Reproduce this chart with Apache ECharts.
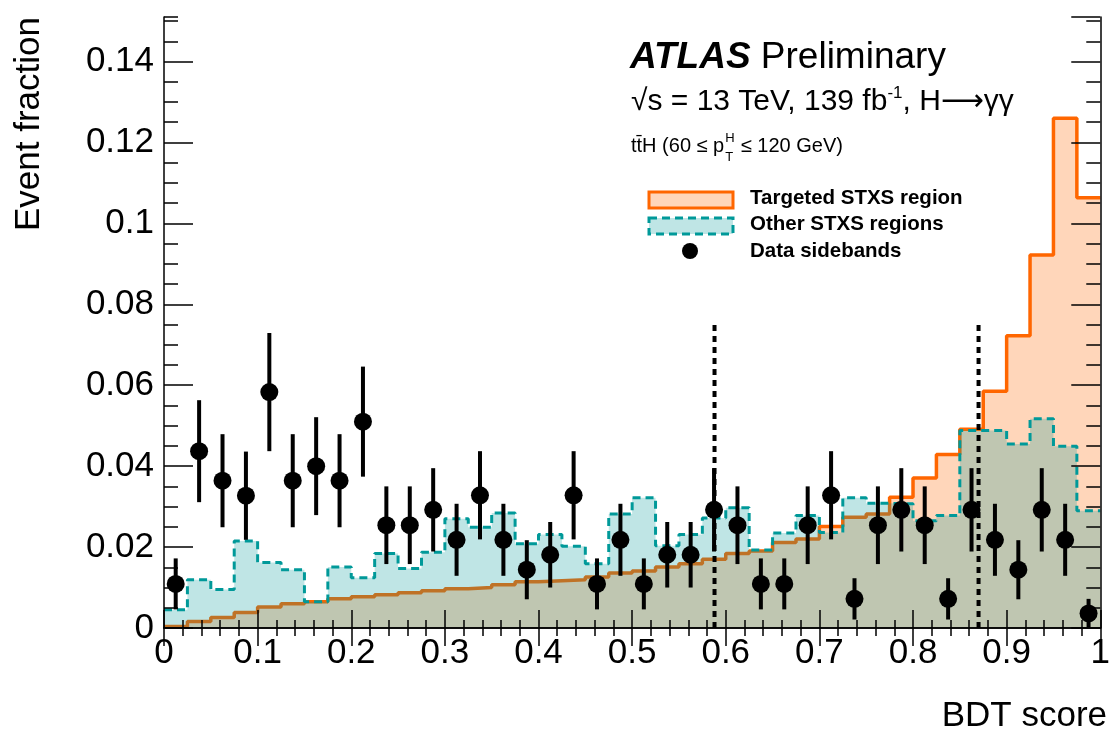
<!DOCTYPE html>
<html>
<head>
<meta charset="utf-8">
<script src="https://cdn.jsdelivr.net/npm/echarts@6/dist/echarts.min.js"></script>
<style>
  html, body { margin: 0; padding: 0; background: #ffffff; }
  #chart { width: 1113px; height: 730px; }
</style>
</head>
<body>
<div id="chart"></div>
<script>
// 40 bins of BDT score, width 0.025
const BIN_WIDTH = 0.025;

const targetedFrac = [
  0.0004, 0.0016, 0.0026, 0.0038, 0.0052, 0.0060, 0.0065, 0.0072, 0.0077, 0.0082,
  0.0087, 0.0092, 0.0097, 0.0100, 0.0107, 0.0114, 0.0117, 0.0119, 0.0126, 0.0136,
  0.0141, 0.0151, 0.0159, 0.0170, 0.0184, 0.0190, 0.0211, 0.0220, 0.0251, 0.0274,
  0.0282, 0.0323, 0.0371, 0.0429, 0.0491, 0.0585, 0.0722, 0.0922, 0.1260, 0.1063
];

const otherFrac = [
  0.0045, 0.0119, 0.0095, 0.0215, 0.0162, 0.0144, 0.0065, 0.0151, 0.0124, 0.0184,
  0.0147, 0.0187, 0.0270, 0.0249, 0.0284, 0.0208, 0.0231, 0.0202, 0.0159, 0.0282,
  0.0322, 0.0203, 0.0231, 0.0272, 0.0297, 0.0193, 0.0235, 0.0278, 0.0236, 0.0322,
  0.0308, 0.0307, 0.0265, 0.0278, 0.0488, 0.0488, 0.0455, 0.0517, 0.0449, 0.0290
];

const dataFrac = [
  0.0109, 0.0437, 0.0364, 0.0327, 0.0583, 0.0364, 0.0400, 0.0364, 0.0510, 0.0254,
  0.0254, 0.0292, 0.0218, 0.0328, 0.0218, 0.0144, 0.0181, 0.0328, 0.0109, 0.0218,
  0.0109, 0.0181, 0.0181, 0.0292, 0.0254, 0.0109, 0.0109, 0.0254, 0.0328, 0.0072,
  0.0254, 0.0292, 0.0254, 0.0072, 0.0292, 0.0218, 0.0144, 0.0292, 0.0218, 0.0036
];

const dataErr = [
  0.0063, 0.0126, 0.0115, 0.0109, 0.0146, 0.0115, 0.0121, 0.0115, 0.0136, 0.0096,
  0.0096, 0.0103, 0.0089, 0.0109, 0.0089, 0.0073, 0.0081, 0.0109, 0.0063, 0.0089,
  0.0063, 0.0081, 0.0081, 0.0103, 0.0096, 0.0063, 0.0063, 0.0096, 0.0109, 0.0051,
  0.0096, 0.0103, 0.0096, 0.0051, 0.0103, 0.0089, 0.0073, 0.0103, 0.0089, 0.0036
];

// category boundaries (dotted lines)
const cutValues = [0.588, 0.870];
const cutTop = 0.0757;

const legendLabels = ['Targeted STXS region', 'Other STXS regions', 'Data sidebands'];

const FONT = "'Liberation Sans', Arial, Helvetica, sans-serif";
const ORANGE = '#ff6600';
const ORANGE_FILL = 'rgba(255,102,0,0.27)';
const TEAL = '#009999';
const TEAL_FILL = 'rgba(0,153,153,0.25)';

function histSteps(vals) {
  const pts = vals.map((v, i) => [i * BIN_WIDTH, v]);
  pts.push([vals.length * BIN_WIDTH, vals[vals.length - 1]]);
  return pts;
}

function measure(text, font) {
  const ctx = document.createElement('canvas').getContext('2d');
  ctx.font = font;
  return ctx.measureText(text).width;
}

const chart = echarts.init(document.getElementById('chart'), null, { renderer: 'canvas' });

const yMax = 0.151;
const tickColor = '#000000';

function yAxisDef(position, interval, tickLen, labels, line) {
  return {
    type: 'value', position, min: 0, max: yMax, interval, z: 10,
    axisLine: { show: line, lineStyle: { color: '#000', width: 1.5 } },
    axisTick: { show: true, inside: true, length: tickLen, lineStyle: { color: tickColor, width: 1.5 } },
    axisLabel: {
      show: labels, margin: 10, fontSize: 35, fontFamily: FONT, color: '#000',
      showMaxLabel: false,
      formatter: v => String(Math.round(v * 100) / 100)
    },
    splitLine: { show: false }
  };
}

function xAxisDef(position, labels) {
  return {
    type: 'value', position, min: 0, max: 1, interval: 0.1, z: 10,
    axisLine: { show: true, lineStyle: { color: '#000', width: 1.5 } },
    axisTick: { show: true, inside: true, length: 18, lineStyle: { color: tickColor, width: 1.5 } },
    minorTick: { show: true, splitNumber: 5, length: 8, lineStyle: { color: tickColor, width: 1.5 } },
    axisLabel: {
      show: labels, margin: 8, fontSize: 35, fontFamily: FONT, color: '#000',
      formatter: v => String(Math.round(v * 10) / 10)
    },
    splitLine: { show: false }
  };
}

// pT text pieces
const smallFont = 20;
const partA = 't\u0074\u0304H (60 \u2264 p';
const partAWidth = measure(partA, smallFont + 'px ' + FONT);
const pX = 631;

const option = {
  animation: false,
  backgroundColor: '#ffffff',
  grid: { left: 164, right: 5, top: 17, bottom: 102 },
  xAxis: [xAxisDef('bottom', true), xAxisDef('top', false)],
  yAxis: [
    yAxisDef('left', 0.02, 29, true, true),
    yAxisDef('left', 0.005, 14, false, false),
    yAxisDef('right', 0.02, 29, false, true),
    yAxisDef('right', 0.005, 14, false, false)
  ],
  series: [
    {
      name: legendLabels[0], type: 'line', step: 'end', showSymbol: false, z: 2,
      data: histSteps(targetedFrac),
      lineStyle: { color: ORANGE, width: 3.5 },
      areaStyle: { color: ORANGE_FILL, opacity: 1 }
    },
    {
      name: legendLabels[1], type: 'line', step: 'end', showSymbol: false, z: 3,
      data: histSteps(otherFrac),
      lineStyle: { color: TEAL, width: 3, type: [8, 5] },
      areaStyle: { color: TEAL_FILL, opacity: 1 }
    },
    ...cutValues.map(c => ({
      type: 'line', showSymbol: false, z: 12, silent: true,
      data: [[c, 0], [c, cutTop]],
      lineStyle: { color: '#000', width: 4, type: [6, 5] }
    })),
    {
      type: 'custom', z: 14,
      data: dataFrac.map((v, i) => [(i + 0.5) * BIN_WIDTH, v, dataErr[i]]),
      encode: { x: 0, y: 1 },
      renderItem(params, api) {
        const x = api.value(0), y = api.value(1), e = api.value(2);
        const lo = api.coord([x, Math.max(0, y - e)]);
        const hi = api.coord([x, y + e]);
        return {
          type: 'line',
          shape: { x1: lo[0], y1: lo[1], x2: hi[0], y2: hi[1] },
          style: { stroke: '#000', lineWidth: 4 }
        };
      }
    },
    {
      name: legendLabels[2], type: 'scatter', z: 15,
      data: dataFrac.map((v, i) => [(i + 0.5) * BIN_WIDTH, v]),
      symbol: 'circle', symbolSize: 18,
      itemStyle: { color: '#000', opacity: 1 }
    }
  ],
  graphic: [
    {
      type: 'text', x: 29, y: 17, rotation: Math.PI / 2,
      style: { text: 'Event fraction', fontSize: 35, fontFamily: FONT, fill: '#000', align: 'right', verticalAlign: 'middle' }
    },
    {
      type: 'text', x: 1107, y: 716,
      style: { text: 'BDT score', fontSize: 35, fontFamily: FONT, fill: '#000', align: 'right', verticalAlign: 'middle' }
    },
    {
      type: 'text', x: 630, y: 58,
      style: {
        text: '{a|ATLAS}{b| Preliminary}', verticalAlign: 'middle',
        rich: {
          a: { fontSize: 37, fontWeight: 'bold', fontStyle: 'italic', fontFamily: FONT, fill: '#000' },
          b: { fontSize: 37, fontFamily: FONT, fill: '#000' }
        }
      }
    },
    {
      type: 'text', x: 631, y: 102,
      style: {
        text: '{m|\u221As = 13 TeV, 139 fb}{s|-1}{m|, H}{ar|\u27F6}{m|\u03b3\u03b3}', verticalAlign: 'middle',
        rich: {
          m: { fontSize: 30, lineHeight: 34, fontFamily: FONT, fill: '#000' },
          ar: { fontSize: 30, lineHeight: 34, fontFamily: "'DejaVu Sans', sans-serif", fill: '#000' },
          s: { fontSize: 17, lineHeight: 17, verticalAlign: 'top', fontFamily: FONT, fill: '#000' }
        }
      }
    },
    {
      type: 'text', x: pX, y: 146,
      style: { text: partA, fontSize: smallFont, fontFamily: FONT, fill: '#000', verticalAlign: 'middle' }
    },
    {
      type: 'text', x: pX + partAWidth + 1, y: 138,
      style: { text: 'H', fontSize: 13, fontFamily: FONT, fill: '#000', verticalAlign: 'middle' }
    },
    {
      type: 'text', x: pX + partAWidth + 1, y: 157,
      style: { text: 'T', fontSize: 13, fontFamily: FONT, fill: '#000', verticalAlign: 'middle' }
    },
    {
      type: 'text', x: pX + partAWidth + 11, y: 146,
      style: { text: ' \u2264 120 GeV)', fontSize: smallFont, fontFamily: FONT, fill: '#000', verticalAlign: 'middle' }
    },
    // legend
    {
      type: 'rect', shape: { x: 649, y: 192, width: 84, height: 16 },
      style: { fill: ORANGE_FILL, stroke: ORANGE, lineWidth: 3 }
    },
    {
      type: 'rect', shape: { x: 649, y: 218, width: 84, height: 16 },
      style: { fill: TEAL_FILL, stroke: TEAL, lineWidth: 3, lineDash: [8, 5] }
    },
    {
      type: 'circle', shape: { cx: 690, cy: 251, r: 8 },
      style: { fill: '#000' }
    },
    ...legendLabels.map((t, i) => ({
      type: 'text', x: 750, y: [198, 224, 251][i],
      style: { text: t, fontSize: 20.5, fontWeight: 'bold', fontFamily: FONT, fill: '#000', verticalAlign: 'middle' }
    }))
  ]
};

chart.setOption(option);
</script>
</body>
</html>
